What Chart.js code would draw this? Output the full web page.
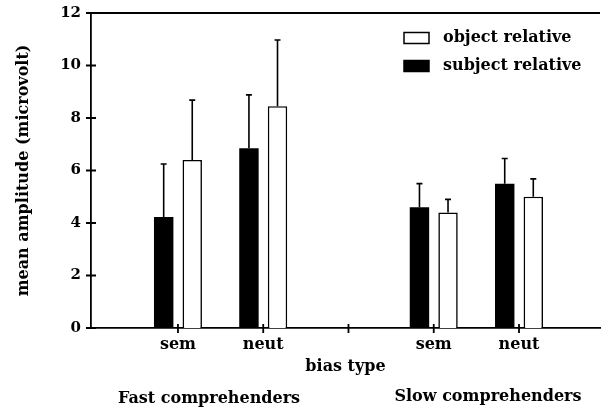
<!DOCTYPE html>
<html>
<head>
<meta charset="utf-8">
<script src="https://cdn.jsdelivr.net/npm/chart.js@4.4.1/dist/chart.umd.min.js"></script>
<style>
  html, body { margin: 0; padding: 0; background: #fff; }
  #wrap { width: 601px; height: 411px; }
</style>
</head>
<body>
<div id="wrap"><canvas id="chart"></canvas></div>
<script>
// x positions: 1,2 = fast group, 4,5 = slow group (3 is the empty gap)
const tickLabels = ["", "sem", "neut", "", "sem", "neut", ""];
const barPositions = [1, 2, 4, 5];
const groupLabels = ["Fast comprehenders", "Slow comprehenders"];

// mean amplitude (microvolt)
const subjectRelative = [4.23, 6.85, 4.6, 5.5];
const objectRelative = [6.4, 8.45, 4.4, 5.0];
// upward error bars (length above the bar top)
const subjectError = [2.02, 2.03, 0.9, 0.96];
const objectError = [2.28, 2.52, 0.5, 0.68];

const FONT = "'DejaVu Serif', serif";

function points(vals) {
  return barPositions.map((x, i) => ({ x, y: vals[i] }));
}

// error bars: a line up from the bar top with a small cap
const errorBars = {
  id: "errorBars",
  afterDatasetsDraw(chart) {
    const ctx = chart.ctx;
    const y = chart.scales.y;
    ctx.save();
    ctx.strokeStyle = "#000";
    ctx.lineWidth = 1.6;
    chart.data.datasets.forEach((ds, i) => {
      chart.getDatasetMeta(i).data.forEach((bar, j) => {
        const top = y.getPixelForValue(ds.data[j].y + ds.errors[j]);
        ctx.beginPath();
        ctx.moveTo(bar.x, bar.y);
        ctx.lineTo(bar.x, top);
        ctx.moveTo(bar.x - 3, top);
        ctx.lineTo(bar.x + 3, top);
        ctx.stroke();
      });
    });
    ctx.restore();
  }
};

// top frame line, crossing tick marks, legend and group names
const decorations = {
  id: "decorations",
  afterDraw(chart) {
    const ctx = chart.ctx;
    const { left, right, top, bottom } = chart.chartArea;
    const xs = chart.scales.x, ys = chart.scales.y;
    ctx.save();
    ctx.strokeStyle = "#000";
    ctx.lineWidth = 1.8;
    ctx.beginPath();
    ctx.moveTo(left, top);
    ctx.lineTo(right, top);
    ys.ticks.forEach(t => {
      const p = ys.getPixelForValue(t.value);
      ctx.moveTo(left - 5, p);
      ctx.lineTo(left + 5, p);
    });
    xs.ticks.forEach(t => {
      const p = xs.getPixelForValue(t.value);
      ctx.moveTo(p, bottom - 4);
      ctx.lineTo(p, bottom + 5);
    });
    ctx.stroke();

    // legend (object relative listed first)
    ctx.font = "bold 16px " + FONT;
    ctx.textBaseline = "middle";
    const items = chart.data.datasets.slice().reverse();
    items.forEach((ds, k) => {
      const ly = 38 + k * 28;
      ctx.fillStyle = ds.backgroundColor;
      ctx.fillRect(404, ly - 5.5, 25, 11);
      ctx.lineWidth = 1.5;
      ctx.strokeRect(404, ly - 5.5, 25, 11);
      ctx.fillStyle = "#000";
      ctx.textAlign = "left";
      ctx.fillText(ds.label, 443, ly);
    });

    ctx.font = "bold 16px " + FONT;
    ctx.textAlign = "center";
    ctx.fillText(groupLabels[0], 209, 399);
    ctx.fillText(groupLabels[1], 488, 397);
    ctx.restore();
  }
};

new Chart(document.getElementById("chart"), {
  type: "bar",
  data: {
    datasets: [
      {
        label: "subject relative",
        data: points(subjectRelative),
        errors: subjectError,
        backgroundColor: "#000",
        borderColor: "#000",
        borderWidth: 0
      },
      {
        label: "object relative",
        data: points(objectRelative),
        errors: objectError,
        backgroundColor: "#fff",
        borderColor: "#000",
        borderWidth: 1.6
      }
    ]
  },
  options: {
    responsive: true,
    maintainAspectRatio: false,
    animation: false,
    categoryPercentage: 0.67,
    barPercentage: 0.68,
    layout: { padding: { top: 13, right: 1, bottom: 0, left: 0 } },
    plugins: { legend: { display: false }, tooltip: { enabled: false } },
    scales: {
      x: {
        type: "linear",
        offset: false,
        min: -0.02,
        max: 5.95,
        afterBuildTicks: s => { s.ticks = [1, 2, 3, 4, 5].map(v => ({ value: v })); },
        afterFit: s => { s.height = 83; },
        grid: { display: false, drawTicks: false },
        border: { display: true, color: "#000", width: 1.8 },
        ticks: {
          autoSkip: false,
          maxRotation: 0,
          padding: 7,
          color: "#000",
          font: { family: FONT, size: 16, weight: "bold" },
          callback: v => tickLabels[v] || ""
        },
        title: {
          display: true,
          text: "bias type",
          color: "#000",
          font: { family: FONT, size: 16, weight: "bold" },
          padding: { top: 0, bottom: 35 }
        }
      },
      y: {
        min: 0,
        max: 12,
        afterFit: s => { s.width = 91; s.paddingTop = 0; s.paddingBottom = 0; },
        grid: { display: false, drawTicks: false },
        border: { display: true, color: "#000", width: 1.8 },
        ticks: {
          stepSize: 2,
          padding: 10,
          color: "#000",
          font: { family: FONT, size: 15, weight: "bold" }
        },
        title: {
          display: true,
          text: "mean amplitude (microvolt)",
          color: "#000",
          font: { family: FONT, size: 16, weight: "bold" },
          padding: { top: 14, bottom: 0 }
        }
      }
    }
  },
  plugins: [errorBars, decorations]
});
</script>
</body>
</html>
